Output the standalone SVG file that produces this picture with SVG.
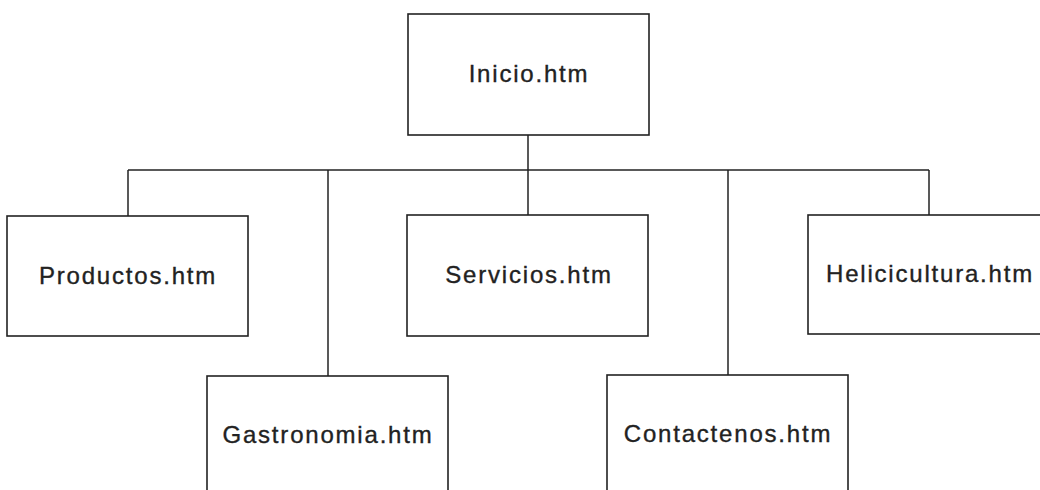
<svg xmlns="http://www.w3.org/2000/svg" width="1040" height="490" viewBox="0 0 1040 490">
<style>
.box{fill:#fff;stroke:#222;stroke-width:1.6}
.lbl{font-family:"Liberation Sans",Arial,sans-serif;font-size:24px;letter-spacing:1.8px;fill:#222;stroke:#222;stroke-width:0.35;text-anchor:middle}
.con{fill:none;stroke:#222;stroke-width:1.5}
</style>
<rect width="1040" height="490" fill="#fff"/>
<g id="connectors" class="con">
<line x1="528" y1="135" x2="528" y2="170"/>
<line x1="128" y1="170" x2="929" y2="170"/>
<line x1="128" y1="170" x2="128" y2="216"/>
<line x1="328" y1="170" x2="328" y2="376"/>
<line x1="528" y1="170" x2="528" y2="215"/>
<line x1="728" y1="170" x2="728" y2="375"/>
<line x1="929" y1="170" x2="929" y2="215"/>
</g>
<g id="inicio"><rect class="box" x="408" y="14" width="241" height="121"/><text class="lbl" x="529" y="82">Inicio.htm</text></g>
<g id="productos"><rect class="box" x="7" y="216" width="241" height="120"/><text class="lbl" x="128" y="284">Productos.htm</text></g>
<g id="servicios"><rect class="box" x="407" y="215" width="241" height="121"/><text class="lbl" x="529" y="283">Servicios.htm</text></g>
<g id="helicicultura"><rect class="box" x="808" y="215" width="241" height="119"/><text class="lbl" x="930" y="282">Helicicultura.htm</text></g>
<g id="gastronomia"><rect class="box" x="207" y="376" width="241" height="130"/><text class="lbl" x="328" y="443">Gastronomia.htm</text></g>
<g id="contactenos"><rect class="box" x="607" y="375" width="241" height="130"/><text class="lbl" x="728" y="442">Contactenos.htm</text></g>
</svg>
